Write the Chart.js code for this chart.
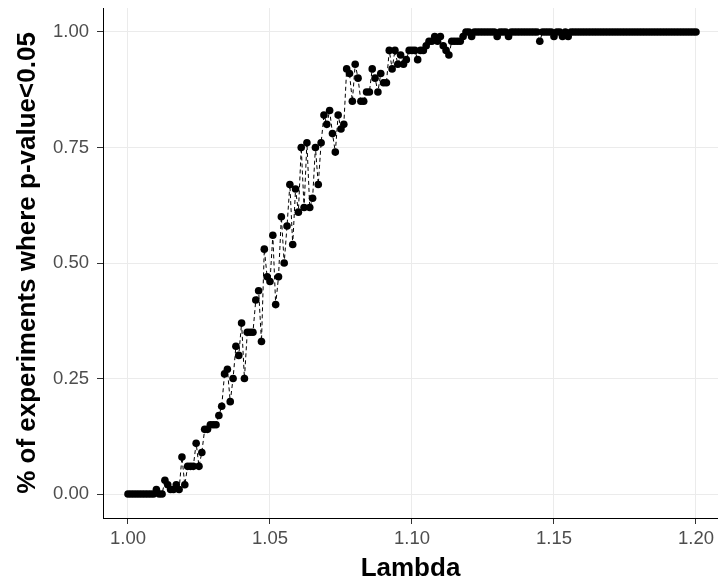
<!DOCTYPE html>
<html>
<head>
<meta charset="utf-8">
<script src="https://cdn.jsdelivr.net/npm/chart.js@4"></script>
<style>
  html, body { margin: 0; padding: 0; background: #fff; }
  #wrap { width: 718px; height: 584px; }
</style>
</head>
<body>
<div id="wrap"><canvas id="chart" width="718" height="584"></canvas></div>
<script>
// lambda values on the x axis
const lambda = [
  1.000, 1.001, 1.002, 1.003, 1.004, 1.005, 1.006, 1.007, 1.008, 1.009,
  1.010, 1.011, 1.012, 1.013, 1.014, 1.015, 1.016, 1.017, 1.018, 1.019,
  1.020, 1.021, 1.022, 1.023, 1.024, 1.025, 1.026, 1.027, 1.028, 1.029,
  1.030, 1.031, 1.032, 1.033, 1.034, 1.035, 1.036, 1.037, 1.038, 1.039,
  1.040, 1.041, 1.042, 1.043, 1.044, 1.045, 1.046, 1.047, 1.048, 1.049,
  1.050, 1.051, 1.052, 1.053, 1.054, 1.055, 1.056, 1.057, 1.058, 1.059,
  1.060, 1.061, 1.062, 1.063, 1.064, 1.065, 1.066, 1.067, 1.068, 1.069,
  1.070, 1.071, 1.072, 1.073, 1.074, 1.075, 1.076, 1.077, 1.078, 1.079,
  1.080, 1.081, 1.082, 1.083, 1.084, 1.085, 1.086, 1.087, 1.088, 1.089,
  1.090, 1.091, 1.092, 1.093, 1.094, 1.095, 1.096, 1.097, 1.098, 1.099,
  1.100, 1.101, 1.102, 1.103, 1.104, 1.105, 1.106, 1.107, 1.108, 1.109,
  1.110, 1.111, 1.112, 1.113, 1.114, 1.115, 1.116, 1.117, 1.118, 1.119,
  1.120, 1.121, 1.122, 1.123, 1.124, 1.125, 1.126, 1.127, 1.128, 1.129,
  1.130, 1.131, 1.132, 1.133, 1.134, 1.135, 1.136, 1.137, 1.138, 1.139,
  1.140, 1.141, 1.142, 1.143, 1.144, 1.145, 1.146, 1.147, 1.148, 1.149,
  1.150, 1.151, 1.152, 1.153, 1.154, 1.155, 1.156, 1.157, 1.158, 1.159,
  1.160, 1.161, 1.162, 1.163, 1.164, 1.165, 1.166, 1.167, 1.168, 1.169,
  1.170, 1.171, 1.172, 1.173, 1.174, 1.175, 1.176, 1.177, 1.178, 1.179,
  1.180, 1.181, 1.182, 1.183, 1.184, 1.185, 1.186, 1.187, 1.188, 1.189,
  1.190, 1.191, 1.192, 1.193, 1.194, 1.195, 1.196, 1.197, 1.198, 1.199,
  1.200
];

// share of experiments with p-value < 0.05
const share = [
  0, 0, 0, 0, 0, 0, 0, 0, 0, 0,
  0.01, 0, 0, 0.03, 0.02, 0.01, 0.01, 0.02, 0.01, 0.08,
  0.02, 0.06, 0.06, 0.06, 0.11, 0.06, 0.09, 0.14, 0.14, 0.15,
  0.15, 0.15, 0.17, 0.19, 0.26, 0.27, 0.20, 0.25, 0.32, 0.30,
  0.37, 0.25, 0.35, 0.35, 0.35, 0.42, 0.44, 0.33, 0.53, 0.47,
  0.46, 0.56, 0.41, 0.47, 0.60, 0.50, 0.58, 0.67, 0.54, 0.66,
  0.61, 0.75, 0.62, 0.76, 0.62, 0.64, 0.75, 0.67, 0.76, 0.82,
  0.80, 0.83, 0.78, 0.74, 0.82, 0.79, 0.80, 0.92, 0.91, 0.85,
  0.93, 0.90, 0.85, 0.85, 0.87, 0.87, 0.92, 0.90, 0.87, 0.91,
  0.89, 0.89, 0.96, 0.92, 0.96, 0.93, 0.95, 0.93, 0.94, 0.96,
  0.96, 0.96, 0.94, 0.96, 0.96, 0.97, 0.98, 0.98, 0.99, 0.98,
  0.99, 0.97, 0.96, 0.95, 0.98, 0.98, 0.98, 0.98, 0.99, 1,
  1, 0.99, 1, 1, 1, 1, 1, 1, 1, 1,
  0.99, 1, 1, 1, 0.99, 1, 1, 1, 1, 1,
  1, 1, 1, 1, 1, 0.98, 1, 1, 1, 1,
  0.99, 1, 1, 0.99, 1, 0.99, 1, 1, 1, 1,
  1, 1, 1, 1, 1, 1, 1, 1, 1, 1,
  1, 1, 1, 1, 1, 1, 1, 1, 1, 1,
  1, 1, 1, 1, 1, 1, 1, 1, 1, 1,
  1, 1, 1, 1, 1, 1, 1, 1, 1, 1,
  1
];

const xTicks = [1.00, 1.05, 1.10, 1.15, 1.20];
const yTicks = [0, 0.25, 0.5, 0.75, 1];

const points = lambda.map((x, i) => ({ x: x, y: share[i] }));

const tickFont = { family: "'Liberation Sans', Arial, sans-serif", size: 18.5 };
const titleFont = { family: "'Liberation Sans', Arial, sans-serif", size: 26, weight: "bold" };

new Chart(document.getElementById("chart").getContext("2d"), {
  type: "line",
  data: {
    datasets: [
      {
        label: "share",
        data: points,
        borderColor: "#000",
        borderWidth: 1,
        borderDash: [4, 3],
        pointRadius: 3.8,
        pointBackgroundColor: "#000",
        pointBorderWidth: 0,
        tension: 0,
      },
    ],
  },
  options: {
    responsive: false,
    animation: false,
    layout: { autoPadding: false, padding: { top: 8, right: 0, left: 0, bottom: 0 } },
    plugins: { legend: { display: false }, tooltip: { enabled: false } },
    scales: {
      x: {
        type: "linear",
        min: 0.9912,
        max: 1.20775,
        afterBuildTicks: (axis) => { axis.ticks = xTicks.map((v) => ({ value: v })); },
        afterFit: (axis) => {
          axis.height = 66;
          axis.paddingLeft = 0;
          axis.paddingRight = 0;
        },
        grid: { color: "#ebebeb", lineWidth: 1, tickLength: 6, tickColor: "#333" },
        border: { color: "#000", width: 1 },
        ticks: {
          color: "#4d4d4d",
          font: tickFont,
          padding: 4,
          maxRotation: 0,
          callback: (v) => v.toFixed(2),
        },
        title: {
          display: true,
          text: "Lambda",
          color: "#000",
          font: titleFont,
          padding: { top: 0, bottom: 0 },
        },
      },
      y: {
        min: -0.0518,
        max: 1.0518,
        afterBuildTicks: (axis) => { axis.ticks = yTicks.map((v) => ({ value: v })); },
        afterFit: (axis) => {
          axis.width = 103;
          axis.paddingTop = 0;
          axis.paddingBottom = 0;
        },
        grid: { color: "#ebebeb", lineWidth: 1, tickLength: 6, tickColor: "#333" },
        border: { color: "#000", width: 1 },
        ticks: {
          color: "#4d4d4d",
          font: tickFont,
          padding: 8,
          callback: (v) => v.toFixed(2),
        },
        title: {
          display: true,
          text: "% of experiments where p-value<0.05",
          color: "#000",
          font: titleFont,
          padding: { top: 12, bottom: 0 },
        },
      },
    },
  },
});
</script>
</body>
</html>
